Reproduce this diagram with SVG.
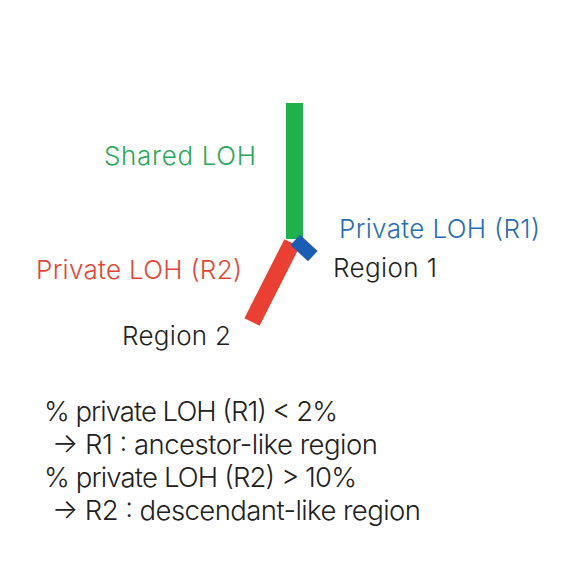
<svg xmlns="http://www.w3.org/2000/svg" width="573" height="570" viewBox="0 0 573 570">
<style>
text{font-family:Inter,Roboto,"Liberation Sans",sans-serif;font-size:26px;font-weight:350}
.g{fill:#2ba85a}.r{fill:#e2463a}.b{fill:#2a6db3}.k{fill:#222222}
.note{font-size:27.5px;fill:#222222}
</style>
<rect width="573" height="570" fill="#ffffff"/>
<g id="connectors">
<rect id="shared-bar" x="286" y="103" width="17" height="136" fill="#1fb14c"/>
<line id="r2-bar" x1="292" y1="243" x2="252" y2="322" stroke="#ea4034" stroke-width="17"/>
<rect id="r1-bar" x="-12" y="-7" width="24" height="14" fill="#1b5db5" transform="translate(304,248) rotate(43)"/>
</g>
<g id="shared"><text class="g" x="104" y="165" textLength="152">Shared LOH</text></g>
<g id="private-r1"><text class="b" x="339" y="238" textLength="201">Private LOH (R1)</text></g>
<g id="region1"><text class="k" x="333" y="277" textLength="104">Region 1</text></g>
<g id="private-r2"><text class="r" x="36" y="279" textLength="206">Private LOH (R2)</text></g>
<g id="region2"><text class="k" x="122" y="345" textLength="109">Region 2</text></g>
<g id="notes">
<text class="note" x="44" y="421" textLength="294">% private LOH (R1) &lt; 2%</text>
<text class="note" x="52" y="454" textLength="326">→ R1 : ancestor-like region</text>
<text class="note" x="44" y="487" textLength="313">% private LOH (R2) &gt; 10%</text>
<text class="note" x="52" y="520" textLength="369">→ R2 : descendant-like region</text>
</g>
</svg>
